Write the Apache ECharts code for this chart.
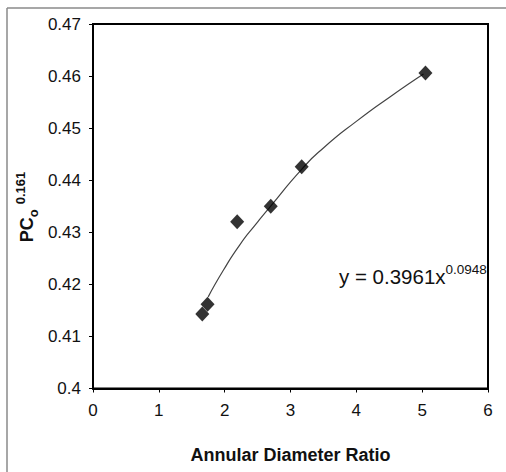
<!DOCTYPE html>
<html>
<head>
<meta charset="utf-8">
<script src="https://cdn.jsdelivr.net/npm/echarts@6/dist/echarts.min.js"></script>
<style>
  html, body { margin: 0; padding: 0; background: #fff; }
  #chart { width: 506px; height: 472px; }
</style>
</head>
<body>
<div id="chart"></div>
<script>
// measured points
const diameterRatio = [1.66, 1.74, 2.19, 2.70, 3.17, 5.05];
const pcValue = [0.4143, 0.4162, 0.4320, 0.4350, 0.4426, 0.4606];

// power trend line
const trendX = [1.75, 1.98, 2.23, 2.49, 2.69, 3.17, 3.50, 4.01, 4.51, 5.02];
const trendY = [0.4176, 0.4227, 0.4276, 0.4318, 0.4349, 0.4421, 0.4462, 0.4514, 0.4560, 0.4604];

const xTicks = [0, 1, 2, 3, 4, 5, 6];
const yTicks = [0.4, 0.41, 0.42, 0.43, 0.44, 0.45, 0.46, 0.47];

const fontFamily = '"Liberation Sans", Arial, sans-serif';

const chart = echarts.init(document.getElementById('chart'), null, { renderer: 'svg' });

const option = {
  backgroundColor: '#fff',
  animation: false,
  grid: {
    left: 93,
    right: 18,
    top: 24,
    bottom: 83.5,
    show: true,
    borderColor: '#000',
    borderWidth: 2
  },
  xAxis: {
    type: 'value',
    min: xTicks[0],
    max: xTicks[xTicks.length - 1],
    interval: 1,
    name: 'Annular Diameter Ratio',
    nameLocation: 'middle',
    nameGap: 57,
    nameTextStyle: { fontFamily, fontSize: 18, fontWeight: 'bold', color: '#111' },
    axisLine: { lineStyle: { color: '#000', width: 2 } },
    axisTick: { show: true, length: 4, lineStyle: { color: '#000' } },
    axisLabel: { fontFamily, fontSize: 17, color: '#111', margin: 13 },
    splitLine: { show: false }
  },
  yAxis: {
    type: 'value',
    min: yTicks[0],
    max: yTicks[yTicks.length - 1],
    interval: 0.01,
    axisLine: { show: true, lineStyle: { color: '#000', width: 2 } },
    axisTick: { show: true, length: 4, lineStyle: { color: '#000' } },
    axisLabel: {
      fontFamily, fontSize: 17, color: '#111', margin: 12,
      formatter: (v) => String(+v.toFixed(2))
    },
    splitLine: { show: false }
  },
  series: [
    {
      type: 'line',
      data: trendX.map((x, i) => [x, trendY[i]]),
      smooth: 0.6,
      showSymbol: false,
      lineStyle: { color: '#444', width: 1.2 },
      z: 2
    },
    {
      type: 'scatter',
      data: diameterRatio.map((x, i) => [x, pcValue[i]]),
      symbol: 'diamond',
      symbolSize: [14, 15],
      itemStyle: { color: '#000' },
      z: 3
    }
  ],
  graphic: [
    // outer frame of the scanned figure
    { type: 'line', shape: { x1: 7, y1: 8, x2: 506, y2: 8 }, style: { stroke: '#8a8a8a', lineWidth: 1.5 } },
    { type: 'line', shape: { x1: 7, y1: 8, x2: 7, y2: 472 }, style: { stroke: '#8a8a8a', lineWidth: 1.5 } },
    {
      type: 'text',
      x: 27,
      y: 207,
      rotation: Math.PI / 2,
      style: {
        text: '{b|PC}{sub|o}{sup|0.161}',
        align: 'center',
        verticalAlign: 'middle',
        fill: '#111',
        rich: {
          b: { fontFamily, fontSize: 18, fontWeight: 'bold', lineHeight: 26 },
          sub: { fontFamily, fontSize: 13, fontWeight: 'bold', lineHeight: 13, verticalAlign: 'bottom', padding: [0, 5, 0, 0] },
          sup: { fontFamily, fontSize: 13, fontWeight: 'bold', lineHeight: 13, verticalAlign: 'top' }
        }
      }
    },
    {
      type: 'text',
      x: 339,
      y: 276,
      style: {
        text: '{m|y = 0.3961x}{sup|0.0948}',
        align: 'left',
        verticalAlign: 'middle',
        fill: '#111',
        rich: {
          m: { fontFamily, fontSize: 20.5, lineHeight: 28 },
          sup: { fontFamily, fontSize: 13.5, lineHeight: 13, verticalAlign: 'top' }
        }
      }
    }
  ]
};

chart.setOption(option);
</script>
</body>
</html>
